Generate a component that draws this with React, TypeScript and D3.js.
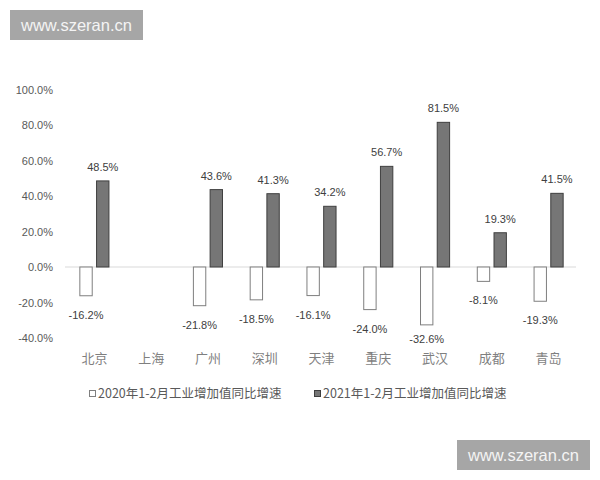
import React from "react";
import * as d3 from "d3";

const categories = ["北京", "上海", "广州", "深圳", "天津", "重庆", "武汉", "成都", "青岛"];
const values2020: (number | null)[] = [-16.2, null, -21.8, -18.5, -16.1, -24.0, -32.6, -8.1, -19.3];
const values2021: (number | null)[] = [48.5, null, 43.6, 41.3, 34.2, 56.7, 81.5, 19.3, 41.5];
const seriesNames = ["2020年1-2月工业增加值同比增速", "2021年1-2月工业增加值同比增速"];
const yTicks = [-40, -20, 0, 20, 40, 60, 80, 100];
const watermark = "www.szeran.cn";

const W = 600;
const H = 480;

export default function App() {
  const y = d3.scaleLinear().domain([-40, 100]).range([338, 89.5]);
  const x0 = d3
    .scaleBand<string>()
    .domain(categories)
    .range([66, 577])
    .paddingInner(0.47)
    .paddingOuter(0.235);
  const x1 = d3
    .scaleBand<string>()
    .domain(["a", "b"])
    .range([0, x0.bandwidth()])
    .paddingInner(0.2);

  const fmt = (v: number) => v.toFixed(1) + "%";
  const numFont = "'Liberation Sans', Arial, sans-serif";
  const cjkFont = "'Noto Sans CJK SC', 'Noto Sans', sans-serif";

  const series = [
    { key: "a", values: values2020, fill: "#ffffff", stroke: "#7f7f7f" },
    { key: "b", values: values2021, fill: "#767676", stroke: "#3f3f3f" },
  ];

  const wm = (x: number, yy: number) => (
    <g>
      <rect x={x} y={yy} width={133} height={30} fill="#a6a6a6" />
      <text
        x={x + 66.5}
        y={yy + 21}
        textAnchor="middle"
        fontFamily={numFont}
        fontSize={16.5}
        fill="#f4f4f4"
      >
        {watermark}
      </text>
    </g>
  );

  return (
    <svg
      width={W}
      height={H}
      style={{ position: "absolute", left: 0, top: 0, background: "#fff" }}
    >
      <rect x={0} y={0} width={W} height={H} fill="#ffffff" />
      {/* y axis labels */}
      {yTicks.map((t) => (
        <text
          key={t}
          x={53}
          y={y(t) + 4}
          textAnchor="end"
          fontFamily={numFont}
          fontSize={11}
          fill="#595959"
        >
          {fmt(t)}
        </text>
      ))}
      {/* zero line */}
      <line x1={65} x2={576} y1={y(0)} y2={y(0)} stroke="#d9d9d9" strokeWidth={1} />
      {/* bars */}
      {series.map((s) =>
        categories.map((c, i) => {
          const v = s.values[i];
          if (v === null) return null;
          const bx = (x0(c) as number) + (x1(s.key) as number);
          const bw = x1.bandwidth();
          const top = Math.min(y(v), y(0));
          const h = Math.abs(y(v) - y(0));
          const cx = bx + bw / 2;
          return (
            <g key={s.key + c}>
              <rect
                x={bx + 0.5}
                y={top}
                width={bw - 1}
                height={h}
                fill={s.fill}
                stroke={s.stroke}
                strokeWidth={1}
              />
              <text
                x={cx}
                y={v >= 0 ? y(v) - 10 : Math.min(y(v) + 23, 343)}
                textAnchor="middle"
                fontFamily={numFont}
                fontSize={11}
                fill="#404040"
              >
                {fmt(v)}
              </text>
            </g>
          );
        })
      )}
      {/* category labels */}
      {categories.map((c) => (
        <text
          key={c}
          x={(x0(c) as number) + x0.bandwidth() / 2}
          y={363}
          textAnchor="middle"
          fontFamily={cjkFont}
          fontSize={13}
          fill="#7f7f7f"
        >
          {c}
        </text>
      ))}
      {/* legend */}
      <g>
        <rect x={89.5} y={390.5} width={6} height={6} fill="#ffffff" stroke="#7f7f7f" />
        <text x={98} y={398} fontFamily={cjkFont} fontSize={12.5} fill="#595959">
          {seriesNames[0]}
        </text>
        <rect x={314.5} y={390.5} width={6} height={6} fill="#767676" stroke="#3f3f3f" />
        <text x={323} y={398} fontFamily={cjkFont} fontSize={12.5} fill="#595959">
          {seriesNames[1]}
        </text>
      </g>
      {wm(10, 10)}
      {wm(457, 440)}
    </svg>
  );
}
